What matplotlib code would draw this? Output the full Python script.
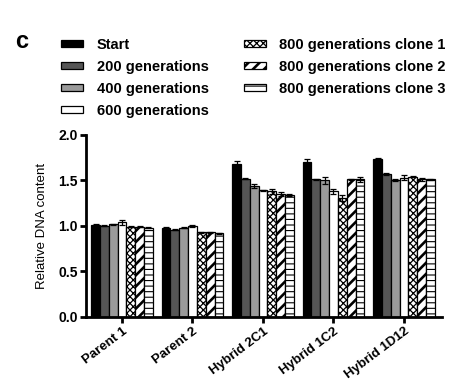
import numpy as np
import matplotlib.pyplot as plt

plt.rcParams['font.family'] = ['Liberation Sans', 'DejaVu Sans']

strains = ['Parent 1', 'Parent 2', 'Hybrid 2C1', 'Hybrid 1C2', 'Hybrid 1D12']
series = ['Start', '200 generations', '400 generations', '600 generations',
          '800 generations clone 1', '800 generations clone 2', '800 generations clone 3']

start = [1.01, 0.98, 1.68, 1.70, 1.73]
gen200 = [1.00, 0.96, 1.52, 1.51, 1.57]
gen400 = [1.02, 0.98, 1.44, 1.50, 1.50]
gen600 = [1.04, 1.00, 1.39, 1.38, 1.53]
clone1 = [0.99, 0.93, 1.38, 1.31, 1.54]
clone2 = [0.99, 0.93, 1.35, 1.51, 1.51]
clone3 = [0.98, 0.92, 1.34, 1.51, 1.51]

err_start = [0.01, 0.01, 0.03, 0.03, 0.015]
err_200 = [0.005, 0.005, 0.005, 0.005, 0.01]
err_400 = [0.005, 0.005, 0.025, 0.035, 0.01]
err_600 = [0.025, 0.01, 0.005, 0.025, 0.025]
err_c1 = [0.005, 0.005, 0.025, 0.035, 0.005]
err_c2 = [0.005, 0.005, 0.025, 0.005, 0.015]
err_c3 = [0.005, 0.005, 0.01, 0.03, 0.01]

values = [start, gen200, gen400, gen600, clone1, clone2, clone3]
errors = [err_start, err_200, err_400, err_600, err_c1, err_c2, err_c3]
colors = ['black', '#555555', '#9a9a9a', 'white', 'white', 'white', 'white']
hatches = [None, None, None, None, 'xxxxx', '///', '---']
hatch_lw = [1.0, 1.0, 1.0, 1.0, 0.9, 1.9, 0.8]

fig = plt.figure(figsize=(4.6, 3.81), dpi=100)
ax = fig.add_axes([0.187, 0.168, 0.774, 0.478])

x = np.arange(len(strains))
w = 0.125
for i in range(len(series)):
    pos = x + (i - 3) * w
    bars = ax.bar(pos, values[i], width=w, color=colors[i], edgecolor='black',
                  linewidth=0.9, hatch=hatches[i], label=series[i],
                  yerr=errors[i],
                  error_kw=dict(ecolor='black', elinewidth=0.9, capsize=2, capthick=0.9))
    for b in bars:
        b.set_hatch_linewidth(hatch_lw[i])

ax.set_ylim(0, 2.0)
ax.set_xlim(-0.51, 4.54)
ax.set_yticks([0.0, 0.5, 1.0, 1.5, 2.0])
ax.set_yticklabels(['0.0', '0.5', '1.0', '1.5', '2.0'], fontweight='bold', fontsize=10)
ax.set_xticks(x)
ax.set_xticklabels(strains, rotation=37, ha='right', rotation_mode='anchor',
                   fontweight='bold', fontsize=9.5)
ax.set_ylabel('Relative DNA content', fontsize=9.5, labelpad=7)
ax.spines['top'].set_visible(False)
ax.spines['right'].set_visible(False)
ax.spines['left'].set_linewidth(2)
ax.spines['bottom'].set_linewidth(2)
ax.tick_params(width=2, length=4, direction='out', pad=2)

leg = fig.legend(loc='upper left', bbox_to_anchor=(61 / 460, 1 - 38 / 381), ncol=2,
                 frameon=False, borderpad=0, borderaxespad=0,
                 prop=dict(weight='bold', size=10.5), handlelength=1.5, handleheight=0.35,
                 columnspacing=2.4, labelspacing=0.55, handletextpad=0.95)
for h, lw in zip(leg.legend_handles, hatch_lw):
    h.set_linewidth(0.9)
    h.set_hatch_linewidth(lw)

fig.text(0.033, 0.875, 'c', fontsize=17, fontweight='bold')

fig.savefig('out.png', dpi=100)
